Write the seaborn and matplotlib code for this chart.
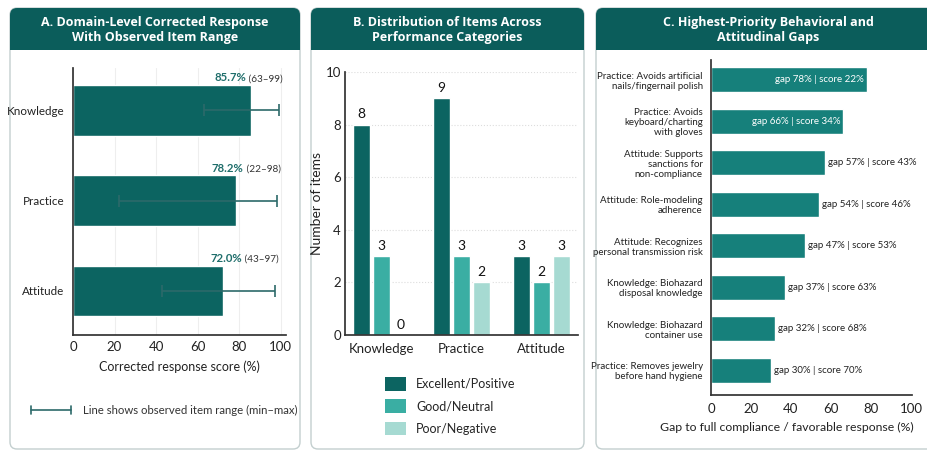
import numpy as np
import pandas as pd
import matplotlib
matplotlib.use("Agg")
import matplotlib.pyplot as plt
from matplotlib.patches import FancyBboxPatch, Rectangle, Patch
from matplotlib.lines import Line2D
import seaborn as sns

# ---- data -------------------------------------------------------------
domains = ["Knowledge", "Practice", "Attitude"]
domain_score = [85.7, 78.2, 72.0]
range_min = [63, 22, 43]
range_max = [99, 98, 97]

categories = ["Excellent/Positive", "Good/Neutral", "Poor/Negative"]
excellent_counts = [8, 9, 3]
good_counts = [3, 3, 2]
poor_counts = [0, 2, 3]

gap_items = [
    "Practice: Avoids artificial\nnails/fingernail polish",
    "Practice: Avoids\nkeyboard/charting\nwith gloves",
    "Attitude: Supports\nsanctions for\nnon-compliance",
    "Attitude: Role-modeling\nadherence",
    "Attitude: Recognizes\npersonal transmission risk",
    "Knowledge: Biohazard\ndisposal knowledge",
    "Knowledge: Biohazard\ncontainer use",
    "Practice: Removes jewelry\nbefore hand hygiene",
]
gap_pct = [78, 66, 57, 54, 47, 37, 32, 30]
item_score = [22, 34, 43, 46, 53, 63, 68, 70]

# ---- style ------------------------------------------------------------
sns.set_theme(style="white")
plt.rcParams["font.family"] = ["Lato", "DejaVu Sans"]
plt.rcParams["axes.edgecolor"] = "#333333"
plt.rcParams["xtick.color"] = "#222222"
plt.rcParams["ytick.color"] = "#222222"

HEADER = "#0b5d5b"
DARK = "#0c6461"
MID = "#3aaea3"
LIGHT = "#a6dad2"
C_BAR = "#16807b"
LABEL_TEAL = "#1f6e6b"
CARD_EDGE = "#c3cfcf"
TITLE_FONT = ["Open Sans", "DejaVu Sans"]

W, H = 927, 450
fig = plt.figure(figsize=(W / 100, H / 100), dpi=100)
fig.patch.set_facecolor("white")


def fx(px):
    return px / W


def fy(py):
    return 1 - py / H


def axes_px(left, top, right, bottom):
    return fig.add_axes([fx(left), fy(bottom), (right - left) / W, (bottom - top) / H])


def card(left, right, top, bottom, title):
    r = 7 / W
    body = FancyBboxPatch((fx(left), fy(bottom)), (right - left) / W, (bottom - top) / H,
                          boxstyle=f"round,pad=0,rounding_size={r}", mutation_aspect=W / H,
                          transform=fig.transFigure, facecolor="white", edgecolor=CARD_EDGE,
                          linewidth=1.0, zorder=0)
    fig.add_artist(body)
    head = FancyBboxPatch((fx(left), fy(50)), (right - left) / W, (50 - top) / H,
                          boxstyle=f"round,pad=0,rounding_size={r}", mutation_aspect=W / H,
                          transform=fig.transFigure, facecolor=HEADER, edgecolor="none", zorder=1)
    fig.add_artist(head)
    fig.add_artist(Rectangle((fx(left), fy(50)), (right - left) / W, 12 / H,
                             transform=fig.transFigure, facecolor=HEADER, edgecolor="none", zorder=1))
    fig.text(fx((left + right) / 2), fy(30), title, ha="center", va="center", color="white",
             fontsize=9, fontweight="bold", linespacing=1.2, family=TITLE_FONT, zorder=2)


card(10, 300, 8, 449, "A. Domain-Level Corrected Response\nWith Observed Item Range")
card(311, 584, 8, 449, "B. Distribution of Items Across\nPerformance Categories")
card(596, 940, 8, 449, "C. Highest-Priority Behavioral and\nAttitudinal Gaps")

# ---- panel A: domain scores with observed range ------------------------
axA = axes_px(73, 68, 286, 335)
dfA = pd.DataFrame({"domain": domains, "score": domain_score})
sns.barplot(data=dfA, x="score", y="domain", orient="h", color=DARK, width=0.56,
            saturation=1, ax=axA)
ypos = np.arange(len(domains))
sc = np.array(domain_score)
axA.errorbar(sc, ypos, xerr=[sc - np.array(range_min), np.array(range_max) - sc],
             fmt="none", ecolor="#2c6a6a", elinewidth=1.2, capsize=4, capthick=1.2, zorder=3)
for i, d in enumerate(domains):
    t_rng = axA.text(range_max[i] + 2, i - 0.30, f" ({range_min[i]}\u2013{range_max[i]})",
                     ha="right", va="bottom", fontsize=7.2, color="#333333")
    axA.annotate(f"{domain_score[i]:.1f}%", xy=(0, 0), xycoords=t_rng, ha="right", va="bottom",
                 fontsize=8.2, fontweight="bold", color=LABEL_TEAL)
axA.set_xlim(0, 102.5)
axA.set_ylim(2.49, -0.47)
axA.set_xticks([0, 20, 40, 60, 80, 100])
axA.xaxis.grid(True, color="#eeeeee", linewidth=0.8)
axA.set_axisbelow(True)
axA.set_xlabel("Corrected response score (%)", fontsize=9, color="#222222", labelpad=6)
axA.set_ylabel("")
axA.tick_params(axis="x", labelsize=9.5, length=0, pad=4)
axA.tick_params(axis="y", labelsize=8.4, length=0, pad=6)
sns.despine(ax=axA)
axA.set_facecolor("none")

# range legend
fig.add_artist(Line2D([fx(31), fx(71)], [fy(410), fy(410)], color="#2c6a6a", lw=1.2))
for xx in (31, 71):
    fig.add_artist(Line2D([fx(xx), fx(xx)], [fy(406), fy(414)], color="#2c6a6a", lw=1.2))
fig.text(fx(83), fy(410), "Line shows observed item range (min\u2013max)", ha="left", va="center",
         fontsize=8.2, color="#333333")

# ---- panel B: item counts by category ---------------------------------
axB = axes_px(345, 72, 578, 335)
dfB = pd.DataFrame({
    "domain": domains * 3,
    "category": [categories[0]] * 3 + [categories[1]] * 3 + [categories[2]] * 3,
    "count": excellent_counts + good_counts + poor_counts,
})
sns.barplot(data=dfB, x="domain", y="count", hue="category", hue_order=categories,
            palette=[DARK, MID, LIGHT], width=0.75, gap=0.15, saturation=1, ax=axB)
for cont in axB.containers:
    axB.bar_label(cont, fmt="%d", padding=3, fontsize=10, color="#111111")
axB.set_ylim(0, 10)
axB.set_xlim(-0.45, 2.46)
axB.set_yticks([0, 2, 4, 6, 8, 10])
axB.yaxis.grid(True, color="#dddddd", linestyle=":", linewidth=0.8)
axB.set_axisbelow(True)
axB.set_xlabel("")
axB.set_ylabel("Number of items", fontsize=10, color="#222222", labelpad=2)
axB.tick_params(axis="y", labelsize=9.5, length=0, pad=3)
axB.tick_params(axis="x", labelsize=9.5, length=0, pad=6)
sns.despine(ax=axB)
axB.set_facecolor("none")
if axB.legend_ is not None:
    axB.legend_.remove()
handles = [Patch(facecolor=c, edgecolor="none") for c in (DARK, MID, LIGHT)]
fig.legend(handles, categories, loc="upper left", bbox_to_anchor=(fx(380), fy(372)),
           frameon=False, fontsize=9, handlelength=1.7, handleheight=1.3,
           labelspacing=0.7, handletextpad=0.8, borderaxespad=0)

# ---- panel C: largest gaps --------------------------------------------
axC = axes_px(711, 60, 912, 395)
dfC = pd.DataFrame({"item": gap_items, "gap": gap_pct})
sns.barplot(data=dfC, x="gap", y="item", orient="h", color=C_BAR, width=0.6, saturation=1, ax=axC)
for i in range(len(gap_items)):
    txt = f"gap {gap_pct[i]}% | score {item_score[i]}%"
    if gap_pct[i] > 60:
        # long bars: keep the label inside the bar so it stays on the card
        axC.text(gap_pct[i] - 1.5, i, txt, ha="right", va="center", fontsize=7,
                 color="white")
    else:
        axC.text(gap_pct[i] + 1.5, i, txt, ha="left", va="center", fontsize=7,
                 color="#222222")
axC.set_xlim(0, 100.5)
axC.set_ylim(7.6, -0.48)
axC.set_xticks([0, 20, 40, 60, 80, 100])
axC.set_xlabel("")
fig.text(fx(787), fy(427), "Gap to full compliance / favorable response (%)", ha="center",
         va="center", fontsize=8.8, color="#222222")
axC.set_ylabel("")
axC.tick_params(axis="x", labelsize=9.5, length=3, pad=3)
axC.tick_params(axis="y", labelsize=7, length=0, pad=6)
for lab in axC.get_yticklabels():
    lab.set_multialignment("right")
    lab.set_linespacing(1.15)
sns.despine(ax=axC)
axC.set_facecolor("none")

fig.savefig("out.png", dpi=100)
